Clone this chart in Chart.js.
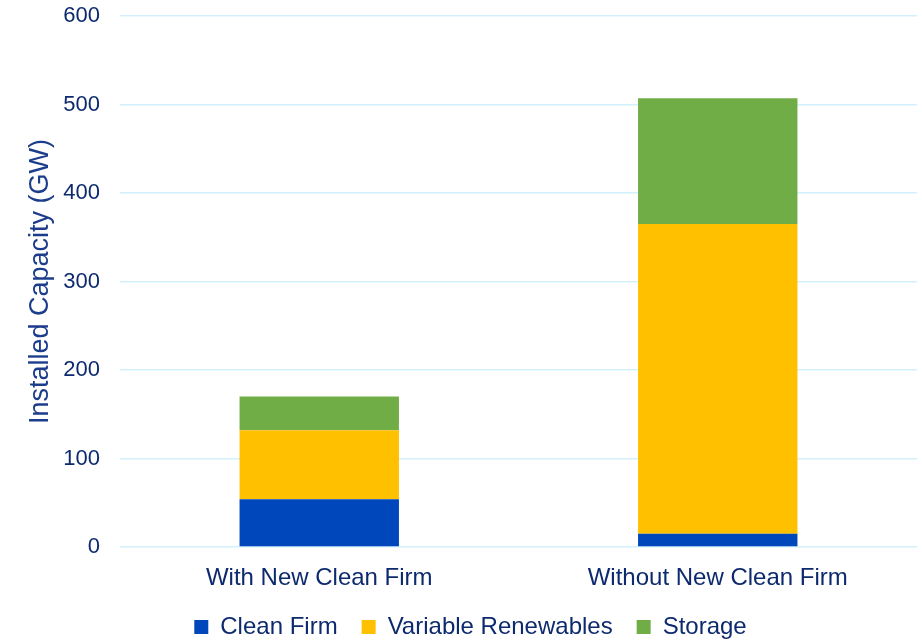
<!DOCTYPE html>
<html>
<head>
<meta charset="utf-8">
<script src="https://cdn.jsdelivr.net/npm/chart.js@4.4.1/dist/chart.umd.min.js"></script>
<style>
  html, body { margin: 0; padding: 0; background: #fff; }
  #wrap { width: 922px; height: 640px; position: relative; }
</style>
</head>
<body>
<div id="wrap"><canvas id="capacityChart"></canvas></div>
<script>
const categories = ["With New Clean Firm", "Without New Clean Firm"];
const cleanFirm = [54, 15];
const variableRenewables = [78, 350];
const storage = [38, 142];
const yTicks = [0, 100, 200, 300, 400, 500, 600];

const textColor = "#0d2a6e";
const titleColor = "#1c3d8c";
const gridColor = "#d3f1fc";
const fontFamily = "'Liberation Sans', Arial, sans-serif";

// squeeze the legend so it sits close to the bottom edge
const legendHeightFix = {
    id: "legendHeightFix",
    beforeInit(chart) {
        const fit = chart.legend.fit;
        chart.legend.fit = function () {
            fit.call(this);
            this.height = 49;
        };
    }
};

const ctx = document.getElementById("capacityChart").getContext("2d");
new Chart(ctx, {
    type: "bar",
    data: {
        labels: categories,
        datasets: [
            { label: "Clean Firm", data: cleanFirm, backgroundColor: "#0047bb" },
            { label: "Variable Renewables", data: variableRenewables, backgroundColor: "#ffc000" },
            { label: "Storage", data: storage, backgroundColor: "#70ad47" }
        ]
    },
    plugins: [legendHeightFix],
    options: {
        responsive: true,
        maintainAspectRatio: false,
        animation: false,
        layout: { padding: { left: 24, right: 5, top: 16, bottom: 0 } },
        datasets: { bar: { categoryPercentage: 1, barPercentage: 0.4 } },
        plugins: {
            legend: {
                position: "bottom",
                labels: {
                    color: textColor,
                    font: { family: fontFamily, size: 24 },
                    boxWidth: 14,
                    boxHeight: 14,
                    padding: 24
                }
            },
            tooltip: { enabled: false }
        },
        scales: {
            x: {
                stacked: true,
                grid: { display: false, drawTicks: false },
                border: { display: false },
                afterFit: (scale) => { scale.height = 44; },
                ticks: { color: textColor, font: { family: fontFamily, size: 24 }, padding: 17 }
            },
            y: {
                stacked: true,
                min: 0,
                max: 600,
                afterBuildTicks: (scale) => { scale.ticks = yTicks.map(v => ({ value: v })); },
                afterFit: (scale) => {
                    scale.width = 96;
                    scale.paddingTop = 0;
                    scale.paddingBottom = 0;
                },
                grid: { color: gridColor, lineWidth: 1.5, drawTicks: false },
                border: { display: false },
                ticks: { color: textColor, font: { family: fontFamily, size: 22 }, padding: 20 },
                title: {
                    display: true,
                    text: "Installed Capacity (GW)",
                    color: titleColor,
                    font: { family: fontFamily, size: 27 },
                    padding: 0
                }
            }
        }
    }
});
</script>
</body>
</html>
